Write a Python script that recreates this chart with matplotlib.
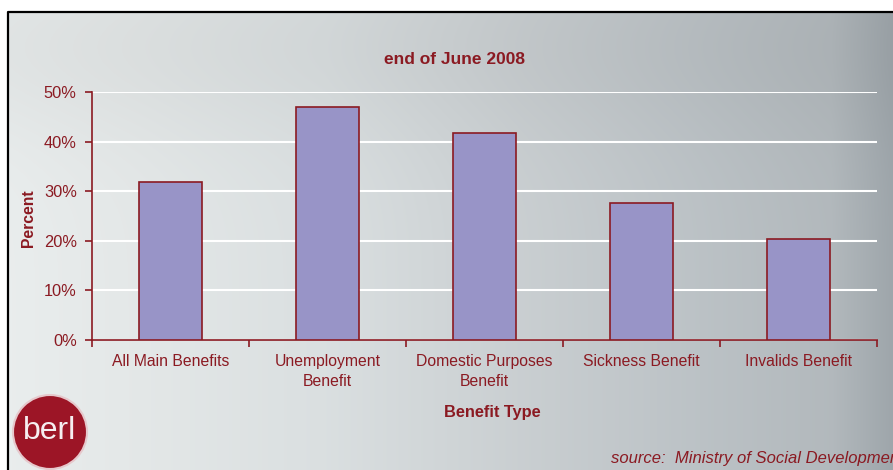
import numpy as np
import matplotlib.pyplot as plt
from matplotlib.patches import Circle

categories = ["All Main Benefits", "Unemployment\nBenefit", "Domestic Purposes\nBenefit",
              "Sickness Benefit", "Invalids Benefit"]
values = [31.8, 47.1, 41.8, 27.7, 20.3]
y_ticks = [0, 10, 20, 30, 40, 50]
y_tick_labels = ["0%", "10%", "20%", "30%", "40%", "50%"]

title = "end of June 2008"
x_label = "Benefit Type"
y_label = "Percent"
source_note = "source:  Ministry of Social Development"

RED = "#8b1a22"
BAR = "#9894c7"

plt.rcParams['font.family'] = ['Liberation Sans', 'DejaVu Sans']

W, H = 893, 470
fig = plt.figure(figsize=(W / 100, H / 100), dpi=100)
fig.patch.set_facecolor("white")

# Slide background: grey gradient, lighter on the left, darker on the right
bg = fig.add_axes([0, 0, 1, 1], zorder=0)
bg.set_xlim(0, W)
bg.set_ylim(H, 0)
bg.axis("off")
xs = np.array([0, 120, 320, 520, 700, 830, 893])
cols = np.array([
    [0.915, 0.930, 0.930],
    [0.895, 0.910, 0.910],
    [0.855, 0.875, 0.880],
    [0.790, 0.810, 0.820],
    [0.735, 0.760, 0.775],
    [0.700, 0.725, 0.740],
    [0.620, 0.650, 0.670],
])
gx = np.arange(W)
grad = np.stack([np.interp(gx, xs, cols[:, c]) for c in range(3)], axis=-1)
gy = np.linspace(0, 1, H)
shade = (1 - 0.04 * np.exp(-((gy - 0.1) / 0.2) ** 2))[:, None, None]
img = np.clip(grad[None, :, :] * shade, 0, 1)
bg.imshow(img[12:], extent=[8, W, H, 12], aspect="auto", zorder=0)
bg.plot([8, 8, W], [H, 12, 12], color="black", lw=1.6, zorder=1)

# berl logo
bg.add_patch(Circle((50, 432), 37, facecolor="#9c1526", edgecolor="#e6c8cc", lw=1.5, zorder=2))
bg.text(50, 431, "berl", color="#f6eef0", fontsize=23, ha="center", va="center", zorder=3)

ax = fig.add_axes([92 / W, 1 - 340 / H, (877 - 92) / W, (340 - 92.3) / H], zorder=1)
ax.patch.set_alpha(0)
x = np.arange(len(categories))
ax.bar(x, values, width=0.4, color=BAR, edgecolor=RED, linewidth=1.2, zorder=3)
ax.set_xlim(-0.5, len(categories) - 0.5)
ax.set_ylim(0, 50)
ax.set_yticks(y_ticks)
ax.set_yticklabels(y_tick_labels)
ax.yaxis.grid(True, color="white", lw=1.5, zorder=1)
ax.set_axisbelow(True)
ax.set_xticks(x)
ax.set_xticklabels(categories, linespacing=1.45)
ax.set_xticks(np.arange(len(categories) + 1) - 0.5, minor=True)
ax.tick_params(axis="x", which="major", length=0, pad=10, labelsize=11.3, labelcolor=RED)
ax.tick_params(axis="x", which="minor", length=5, width=1.2, color=RED, direction="out")
ax.tick_params(axis="y", length=5, width=1.2, color=RED, labelsize=11.8, labelcolor=RED, pad=6)
for s in ["top", "right"]:
    ax.spines[s].set_visible(False)
for s in ["left", "bottom"]:
    ax.spines[s].set_color(RED)
    ax.spines[s].set_linewidth(1.2)

fig.text(455 / W, 1 - 60 / H, title, color=RED, fontsize=12.5, fontweight="bold", ha="center", va="center")
fig.text(28 / W, 1 - 218 / H, y_label, color=RED, fontsize=11.3, fontweight="bold",
         rotation=90, ha="center", va="center")
fig.text(492 / W, 1 - 412 / H, x_label, color=RED, fontsize=11.8, fontweight="bold",
         ha="center", va="center")
fig.text(611 / W, 1 - 459 / H, source_note, color=RED, fontsize=12, style="italic",
         ha="left", va="center")

fig.savefig("out.png", dpi=100)
